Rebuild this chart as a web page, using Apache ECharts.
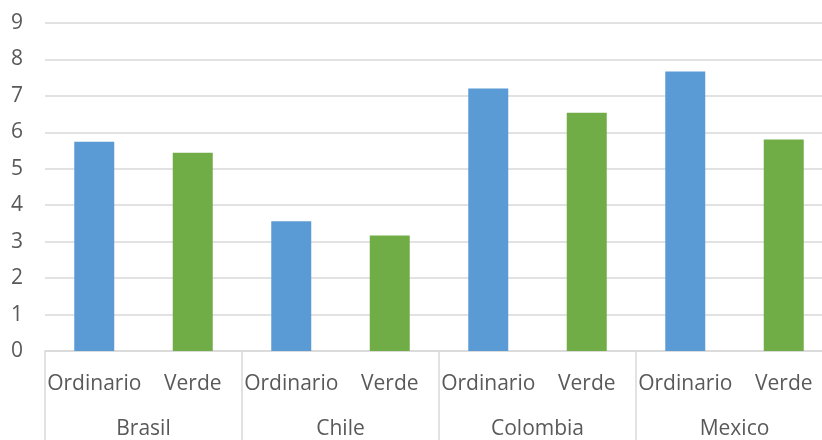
<!DOCTYPE html>
<html>
<head>
<meta charset="utf-8">
<script src="https://cdn.jsdelivr.net/npm/echarts@6/dist/echarts.min.js"></script>
<style>
html,body{margin:0;padding:0;background:#fff;overflow:hidden;}
#chartmain{width:850px;height:440px;}
</style>
</head>
<body>
<div id="chartmain"></div>
<script>
var paises = ['Brasil', 'Chile', 'Colombia', 'Mexico'];
var tipos = ['Ordinario', 'Verde'];
var ordinario = [5.74, 3.56, 7.2, 7.67];
var verde = [5.44, 3.17, 6.54, 5.8];
var yTicks = [0, 1, 2, 3, 4, 5, 6, 7, 8, 9];

var colores = ['#5b9bd5', '#70ad47'];
var fuente = 'Open Sans';
var gris = '#595959';

// categorias internas y datos de barras
var cats = [];
var barras = [];
for (var i = 0; i < paises.length; i++) {
    cats.push(tipos[0], tipos[1]);
    barras.push({value: ordinario[i], itemStyle: {color: colores[0]}});
    barras.push({value: verde[i], itemStyle: {color: colores[1]}});
}

var myChart = echarts.init(document.getElementById('chartmain'));
var options = {
    animation: false,
    grid: {left: 45, top: 23, width: 788, height: 329, containLabel: false},
    xAxis: [{
        type: 'category',
        data: cats,
        axisLine: {lineStyle: {color: '#d9d9d9', width: 1.5}},
        axisTick: {show: false},
        axisLabel: {color: gris, fontFamily: fuente, fontSize: 21, margin: 23, interval: 0}
    }, {
        type: 'category',
        data: paises,
        position: 'bottom',
        axisLine: {show: false},
        axisTick: {show: true, length: 92, interval: 0, lineStyle: {color: '#d9d9d9', width: 1.5}},
        axisLabel: {color: gris, fontFamily: fuente, fontSize: 21, margin: 68, interval: 0}
    }],
    yAxis: {
        type: 'value',
        min: 0,
        max: yTicks[yTicks.length - 1],
        interval: 1,
        axisLine: {show: false},
        axisTick: {show: false},
        splitLine: {lineStyle: {color: '#d9d9d9', width: 1.5}},
        axisLabel: {color: gris, fontFamily: fuente, fontSize: 21, margin: 22}
    },
    series: [{
        type: 'bar',
        xAxisIndex: 0,
        barWidth: 40,
        data: barras
    }]
};
myChart.setOption(options);
</script>
</body>
</html>
